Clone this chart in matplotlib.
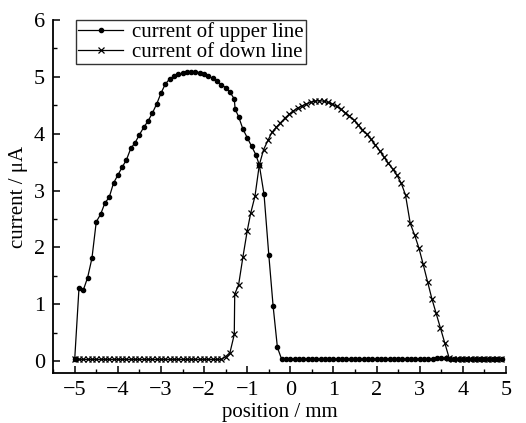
import matplotlib
matplotlib.use("Agg")
import matplotlib.pyplot as plt
from matplotlib.ticker import MultipleLocator


# Upper line: position (mm) and current (uA)
upper_x = [-5.0, -4.9, -4.8, -4.7, -4.6, -4.5, -4.4, -4.3, -4.2, -4.1,
           -4.0, -3.9, -3.8, -3.7, -3.6, -3.5, -3.4, -3.3, -3.2, -3.1,
           -3.0, -2.9, -2.8, -2.7, -2.6, -2.5, -2.4, -2.3, -2.2, -2.1,
           -2.0, -1.9, -1.8, -1.7, -1.6, -1.5, -1.4, -1.3, -1.28, -1.2,
           -1.1, -1.0, -0.9, -0.8, -0.72, -0.61, -0.5, -0.4, -0.3, -0.2,
           -0.1, 0.0, 0.1, 0.2, 0.3, 0.4, 0.5, 0.6, 0.7, 0.8,
           0.9, 1.0, 1.1, 1.2, 1.3, 1.4, 1.5, 1.6, 1.7, 1.8,
           1.9, 2.0, 2.1, 2.2, 2.3, 2.4, 2.5, 2.6, 2.7, 2.8,
           2.9, 3.0, 3.1, 3.2, 3.3, 3.4, 3.5, 3.6, 3.7, 3.8,
           3.9, 4.0, 4.1, 4.2, 4.3, 4.4, 4.5, 4.6, 4.7, 4.8, 4.9]
upper_y = [0.03, 1.29, 1.25, 1.47, 1.81, 2.45, 2.58, 2.78, 2.88, 3.13,
           3.27, 3.41, 3.54, 3.74, 3.84, 3.98, 4.11, 4.22, 4.36, 4.52,
           4.71, 4.87, 4.96, 5.01, 5.04, 5.06, 5.08, 5.09, 5.09, 5.07,
           5.05, 5.01, 4.97, 4.92, 4.86, 4.81, 4.73, 4.61, 4.43, 4.30,
           4.08, 3.93, 3.78, 3.63, 3.45, 2.93, 1.87, 0.97, 0.24, 0.03,
           0.03, 0.03, 0.03, 0.03, 0.03, 0.03, 0.03, 0.03, 0.03, 0.03,
           0.03, 0.03, 0.03, 0.03, 0.03, 0.03, 0.03, 0.03, 0.03, 0.03,
           0.03, 0.03, 0.03, 0.03, 0.03, 0.03, 0.03, 0.03, 0.03, 0.03,
           0.03, 0.03, 0.04, 0.04, 0.04, 0.05, 0.05, 0.05, 0.04, 0.04,
           0.04, 0.04, 0.04, 0.04, 0.04, 0.04, 0.04, 0.04, 0.04, 0.04, 0.04]

# Down line
down_x = [-5.0, -4.9, -4.8, -4.7, -4.6, -4.5, -4.4, -4.3, -4.2, -4.1,
          -4.0, -3.9, -3.8, -3.7, -3.6, -3.5, -3.4, -3.3, -3.2, -3.1,
          -3.0, -2.9, -2.8, -2.7, -2.6, -2.5, -2.4, -2.3, -2.2, -2.1,
          -2.0, -1.9, -1.8, -1.7, -1.6, -1.5, -1.4, -1.3, -1.29, -1.2,
          -1.1, -1.0, -0.92, -0.82, -0.72, -0.62, -0.52, -0.43, -0.33, -0.23,
          -0.13, -0.03, 0.07, 0.17, 0.27, 0.37, 0.47, 0.57, 0.67, 0.77,
          0.87, 0.97, 1.07, 1.17, 1.27, 1.37, 1.47, 1.57, 1.67, 1.77,
          1.87, 1.97, 2.07, 2.17, 2.27, 2.37, 2.47, 2.57, 2.67, 2.78,
          2.88, 2.98, 3.08, 3.18, 3.28, 3.38, 3.48, 3.58, 3.68, 3.78,
          3.88, 3.98, 4.08, 4.18, 4.28, 4.38, 4.48, 4.58, 4.68, 4.78, 4.88]
down_y = [0.03, 0.03, 0.03, 0.03, 0.03, 0.03, 0.03, 0.03, 0.03, 0.03,
          0.03, 0.03, 0.03, 0.03, 0.03, 0.03, 0.03, 0.03, 0.03, 0.03,
          0.03, 0.03, 0.03, 0.03, 0.03, 0.03, 0.03, 0.03, 0.03, 0.03,
          0.03, 0.03, 0.03, 0.03, 0.03, 0.08, 0.15, 0.47, 1.18, 1.34,
          1.83, 2.29, 2.60, 2.90, 3.45, 3.72, 3.88, 4.02, 4.11, 4.19,
          4.27, 4.34, 4.40, 4.45, 4.49, 4.52, 4.55, 4.57, 4.58, 4.57,
          4.55, 4.52, 4.48, 4.43, 4.37, 4.31, 4.24, 4.16, 4.07, 3.99,
          3.90, 3.80, 3.70, 3.59, 3.48, 3.38, 3.27, 3.13, 2.92, 2.42,
          2.22, 1.99, 1.70, 1.40, 1.10, 0.84, 0.58, 0.32, 0.06, 0.03,
          0.03, 0.03, 0.03, 0.03, 0.03, 0.03, 0.03, 0.03, 0.03, 0.03, 0.03]

x_ticks = [-5, -4, -3, -2, -1, 0, 1, 2, 3, 4, 5]
y_ticks = [0, 1, 2, 3, 4, 5, 6]


def main():
    plt.rcParams["font.family"] = ["Liberation Serif", "DejaVu Serif"]

    fig = plt.figure(figsize=(5.26, 4.23), dpi=100)
    ax = fig.add_axes([0.101, 0.118, 0.861, 0.835])

    ax.plot(upper_x, upper_y, color="black", lw=0.9, marker="o",
            markersize=3.0, label="current of upper line")
    ax.plot(down_x, down_y, color="black", lw=0.9, marker="x",
            markersize=5, markeredgewidth=0.9, label="current of down line")

    ax.set_xlim(-5.5, 5.0)
    ax.set_ylim(-0.21, 6.0)
    ax.set_xticks(x_ticks)
    ax.set_yticks(y_ticks)
    ax.set_xticklabels([str(t).replace("-", "\u2212") for t in x_ticks])
    ax.xaxis.set_minor_locator(MultipleLocator(0.5))
    ax.yaxis.set_minor_locator(MultipleLocator(0.5))

    ax.spines["top"].set_visible(False)
    ax.spines["right"].set_visible(False)
    ax.spines["left"].set_linewidth(1.3)
    ax.spines["bottom"].set_linewidth(1.3)
    ax.tick_params(which="major", direction="in", length=5, width=1.1,
                   labelsize=16, pad=6)
    ax.tick_params(which="minor", direction="in", length=3, width=1.0)

    ax.set_xlabel("position / mm", fontsize=15, labelpad=2)
    ax.set_ylabel("current / \u03bcA", fontsize=15, labelpad=4)

    leg = ax.legend(loc="upper left", bbox_to_anchor=(0.05, 1.0),
                    fontsize=15, frameon=True, fancybox=False,
                    edgecolor="black", numpoints=1, handlelength=2.15,
                    handletextpad=0.43, borderpad=0.12, labelspacing=0.0,
                    borderaxespad=0.0)
    leg.get_frame().set_linewidth(1.0)

    fig.savefig("out.png", dpi=100)

    return None


if __name__ == "__main__":
    main()
